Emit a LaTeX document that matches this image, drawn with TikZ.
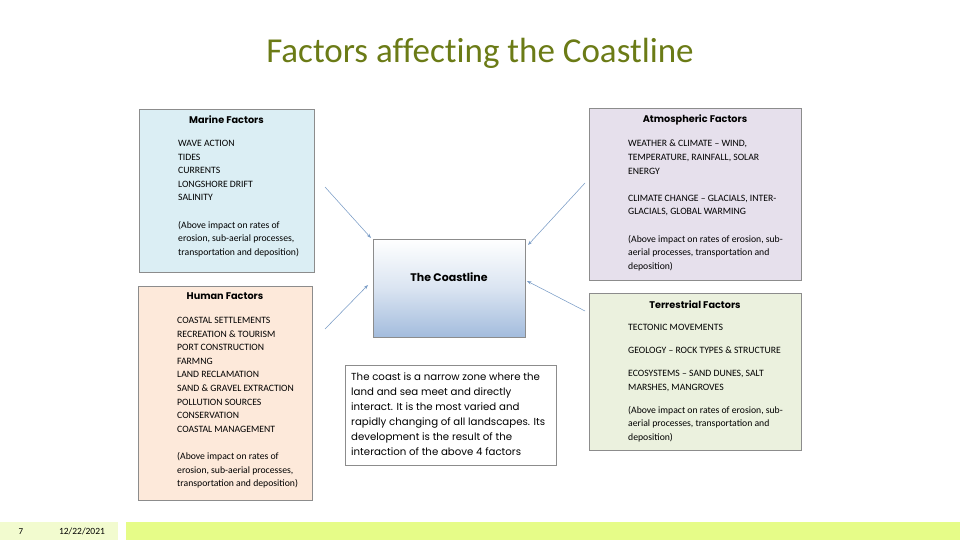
\documentclass[tikz,border=0pt]{standalone}
\usepackage{fontspec}
\setmainfont{Carlito}
\newfontfamily\geofont{Poppins}
\newfontfamily\titlefont[Ligatures=NoCommon]{Carlito}
\usepackage{tikz}
\usetikzlibrary{positioning,arrows.meta,calc}
\definecolor{titlegreen}{HTML}{6B7B16}
\definecolor{marinefill}{HTML}{DBEEF4}
\definecolor{atmosfill}{HTML}{E6E0EC}
\definecolor{humanfill}{HTML}{FDE9DA}
\definecolor{terrfill}{HTML}{EBF1DE}
\definecolor{coastblue}{HTML}{A3BCDD}
\definecolor{boxline}{HTML}{8C8C8C}
\definecolor{arrowblue}{HTML}{7A9CC6}
\definecolor{footpale}{HTML}{F2FBCF}
\definecolor{footlime}{HTML}{E6FC88}

\begin{document}
\begin{tikzpicture}[
  x=1pt, y=-1pt, >=Stealth,
  factor/.style={draw=boxline, line width=0.8pt, inner sep=0pt},
  head/.style={font=\geofont\fontsize{9.7}{12}\selectfont\bfseries, inner sep=0pt},
  body/.style={font=\fontsize{9.7}{13.6}\selectfont, align=left, inner sep=0pt, anchor=north west},
  arr/.style={-{Stealth[length=4.5pt,width=3.2pt]}, line width=0.55pt, color=arrowblue},
]
\useasboundingbox (0,0) rectangle (960,540);

\node[font=\titlefont\fontsize{35}{40}\selectfont, text=titlegreen] (title) at (480,53) {Factors affecting the Coastline};

\node[factor, fill=marinefill, minimum width=175pt, minimum height=163pt] (marine) at (226.5,190.5) {};
\node[factor, fill=atmosfill, minimum width=212pt, minimum height=172pt] (atmos) at (695,194) {};
\node[factor, fill=humanfill, minimum width=174pt, minimum height=214pt] (human) at (225,393) {};
\node[factor, fill=terrfill, minimum width=212pt, minimum height=157pt] (terr) at (695,371.5) {};
\node[draw=boxline, line width=0.8pt, top color=white, bottom color=coastblue, middle color=white!60!coastblue,
      minimum width=152pt, minimum height=98pt] (coast) at (449,288) {};
\node[font=\geofont\fontsize{11}{13}\selectfont\bfseries, inner sep=0pt] (coasthd) at ([yshift=11pt]coast.center) {The Coastline};
\node[draw=boxline, line width=0.8pt, minimum width=211pt, minimum height=100pt] (note) at (450.5,415) {};

\node[head] (marinehd) at ([yshift=-11.5pt]marine.north) {Marine Factors};
\node[head] (atmoshd) at ([yshift=-12pt]atmos.north) {Atmospheric Factors};
\node[head] (humanhd) at ([yshift=-11pt]human.north) {Human Factors};
\node[head] (terrhd) at ([yshift=-12pt]terr.north) {Terrestrial Factors};

\node[body] (marinetx) at (178,140) {WAVE ACTION\\TIDES\\CURRENTS\\LONGSHORE DRIFT\\SALINITY\\[13.6pt]
  (Above impact on rates of\\erosion, sub-aerial processes,\\transportation and deposition)};
\node[body] (humantx) at (177,317) {COASTAL SETTLEMENTS\\RECREATION \& TOURISM\\PORT CONSTRUCTION\\FARMNG\\LAND RECLAMATION\\
  SAND \& GRAVEL EXTRACTION\\POLLUTION SOURCES\\CONSERVATION\\COASTAL MANAGEMENT\\[13.6pt]
  (Above impact on rates of\\erosion, sub-aerial processes,\\transportation and deposition)};
\node[body] (atmostx) at (628,140) {WEATHER \& CLIMATE -- WIND,\\TEMPERATURE, RAINFALL, SOLAR\\ENERGY\\[13.6pt]
  CLIMATE CHANGE -- GLACIALS, INTER-\\GLACIALS, GLOBAL WARMING\\[13.6pt]
  (Above impact on rates of erosion, sub-\\aerial processes, transportation and\\deposition)};
\node[body] (terrtx) at (628,324) {TECTONIC MOVEMENTS\\[9.5pt]GEOLOGY -- ROCK TYPES \& STRUCTURE\\[9.5pt]
  ECOSYSTEMS -- SAND DUNES, SALT\\MARSHES, MANGROVES\\[9.5pt]
  (Above impact on rates of erosion, sub-\\aerial processes, transportation and\\deposition)};
\node[body, font=\geofont\fontsize{10.2}{15}\selectfont] (notetx) at (351,373) {The coast is a narrow zone where the\\land and sea meet and directly\\
  interact. It is the most varied and\\rapidly changing of all landscapes. Its\\development is the result of the\\interaction of the above 4 factors};

\coordinate (marineend) at (325,187);
\coordinate (atmosend) at (585,183);
\coordinate (humanend) at (325,329);
\coordinate (terrend) at (585,311);
\coordinate (coastnw) at (371,238);
\coordinate (coastne) at (528,245);
\coordinate (coastsw) at (368,285);
\coordinate (coastse) at (527,281);
\draw[arr] (marineend) -- (coastnw);
\draw[arr] (atmosend) -- (coastne);
\draw[arr] (humanend) -- (coastsw);
\draw[arr] (terrend) -- (coastse);

\fill[footpale] (0,522) rectangle (118,540);
\fill[footlime] (126,522) rectangle (960,540);
\node[font=\fontsize{9}{10}\selectfont, inner sep=0pt] (pagenum) at (21,532) {7};
\node[font=\fontsize{9.5}{11}\selectfont, inner sep=0pt] (datetx) at (82,531) {12/22/2021};
\end{tikzpicture}
\end{document}
